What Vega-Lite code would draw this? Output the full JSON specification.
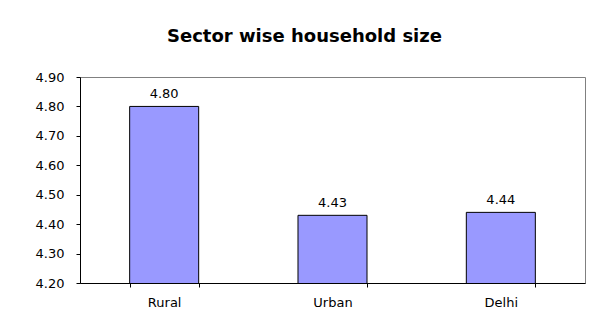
{
  "$schema": "https://vega.github.io/schema/vega-lite/v6.json",
  "width": 505,
  "height": 206,
  "autosize": {"type": "none"},
  "padding": {"left": 80, "top": 77, "right": 15, "bottom": 35},
  "background": "white",
  "title": {
    "text": "Sector wise household size",
    "font": "DejaVu Sans",
    "fontSize": 18,
    "fontWeight": "bold",
    "color": "#000000",
    "anchor": "middle",
    "frame": "group",
    "dx": -28,
    "baseline": "alphabetic",
    "offset": 11
  },
  "data": {
    "values": [
      {"sector": "Rural", "size": 4.80},
      {"sector": "Urban", "size": 4.43},
      {"sector": "Delhi", "size": 4.44}
    ]
  },
  "encoding": {
    "x": {
      "field": "sector",
      "type": "nominal",
      "sort": null,
      "scale": {"paddingInner": 0.59, "paddingOuter": 0.295},
      "axis": {
        "title": null,
        "labelAngle": 0,
        "labelFont": "DejaVu Sans",
        "labelFontSize": 13,
        "labelColor": "#000000",
        "domainColor": "#000000",
        "tickColor": "#000000",
        "tickSize": 4,
        "tickBand": "extent",
        "labelPadding": 9,
        "grid": false
      }
    },
    "y": {
      "field": "size",
      "type": "quantitative",
      "scale": {"domain": [4.2, 4.9], "zero": false, "nice": false},
      "axis": {
        "title": null,
        "values": [4.2, 4.3, 4.4, 4.5, 4.6, 4.7, 4.8, 4.9],
        "format": ".2f",
        "labelFont": "DejaVu Sans",
        "labelFontSize": 13,
        "labelColor": "#000000",
        "domainColor": "#000000",
        "tickColor": "#000000",
        "tickSize": 4,
        "labelPadding": 12,
        "grid": false
      }
    }
  },
  "layer": [
    {
      "mark": {"type": "bar", "fill": "#9999FF", "stroke": "#000000", "strokeWidth": 1, "clip": true}
    },
    {
      "mark": {
        "type": "text",
        "baseline": "alphabetic",
        "dy": -8,
        "font": "DejaVu Sans",
        "fontSize": 13,
        "color": "#000000"
      },
      "encoding": {"text": {"field": "size", "type": "quantitative", "format": ".2f"}}
    }
  ],
  "config": {
    "view": {"stroke": "#808080", "strokeWidth": 1}
  }
}
